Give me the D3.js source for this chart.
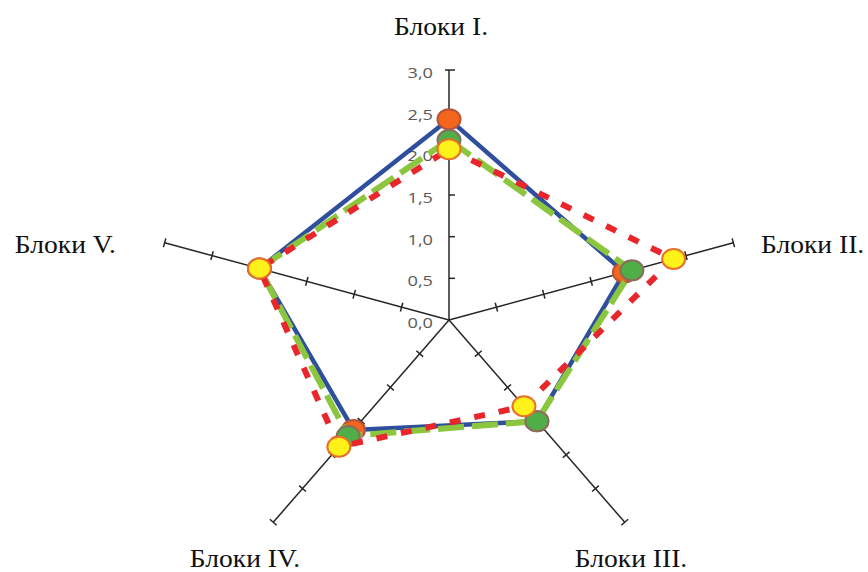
<!DOCTYPE html>
<html>
<head>
<meta charset="utf-8">
<script src="https://cdn.jsdelivr.net/npm/d3@7"></script>
<style>
body { margin: 0; background: #fff; }
</style>
</head>
<body>
<div id="chart"></div>
<script>
// data
var categories = ["Блоки I.", "Блоки II.", "Блоки III.", "Блоки IV.", "Блоки V."];
var seriesBlue = [2.41, 1.85, 1.5, 1.63, 2.0];
var seriesGreen = [2.16, 1.93, 1.5, 1.72, 2.0];
var seriesRed = [2.05, 2.37, 1.28, 1.88, 2.0];
var tickValues = [0, 0.5, 1, 1.5, 2, 2.5, 3];
var tickLabels = ["0,0", "0,5", "1,0", "1,5", "2,0", "2,5", "3,0"];

var W = 868, H = 572;
var cx = 449, cy = 320;
// the original picture is stretched sideways, so two radii
var rx = d3.scaleLinear().domain([0, 3]).range([0, 299]);
var ry = d3.scaleLinear().domain([0, 3]).range([0, 250]);

function angle(i) { return i * 2 * Math.PI / categories.length; }
function px(v, i) { return cx + rx(v) * Math.sin(angle(i)); }
function py(v, i) { return cy - ry(v) * Math.cos(angle(i)); }

var svg = d3.select("#chart").append("svg")
    .attr("width", W).attr("height", H)
    .style("font-family", "'Liberation Serif', 'Times New Roman', serif");

// axes
var axisG = svg.append("g");
categories.forEach(function(c, i) {
    axisG.append("line")
        .attr("x1", cx).attr("y1", cy)
        .attr("x2", px(3, i)).attr("y2", py(3, i))
        .attr("stroke", "#262626").attr("stroke-width", 1.5);
    var dx = px(3, i) - cx, dy = py(3, i) - cy;
    var len = Math.sqrt(dx * dx + dy * dy);
    var nx = -dy / len, ny = dx / len;
    tickValues.forEach(function(t) {
        if (t === 0) return;
        var x0 = px(t, i), y0 = py(t, i);
        var a, b;
        if (i === 0) {
            a = (t === 3) ? -4 : 0; b = 6;
        } else {
            a = -4.5; b = 4.5;
        }
        axisG.append("line")
            .attr("x1", x0 + nx * a).attr("y1", y0 + ny * a)
            .attr("x2", x0 + nx * b).attr("y2", y0 + ny * b)
            .attr("stroke", "#262626").attr("stroke-width", 1.5);
    });
});

// value labels on the first axis
tickValues.forEach(function(t, k) {
    svg.append("text")
        .attr("transform", "translate(" + (cx - 16) + "," + (py(t, 0) + 8) + ") scale(1.3,1)")
        .attr("text-anchor", "end")
        .style("font-family", "'Open Sans', 'Liberation Sans', sans-serif")
        .style("font-size", "14px")
        .attr("fill", "#595959")
        .text(tickLabels[k]);
});

// category labels
var labelPos = [
    { x: 441, y: 35, anchor: "middle" },
    { x: 761, y: 253, anchor: "start" },
    { x: 631, y: 567, anchor: "middle" },
    { x: 245, y: 567, anchor: "middle" },
    { x: 116, y: 253, anchor: "end" }
];
categories.forEach(function(c, i) {
    svg.append("text")
        .attr("transform", "translate(" + labelPos[i].x + "," + labelPos[i].y + ") scale(1.06,1)")
        .attr("text-anchor", labelPos[i].anchor)
        .style("font-size", "26px")
        .attr("fill", "#111")
        .text(c);
});

var series = [
    { values: seriesBlue, stroke: "#2f4e9c", width: 4.5, dash: null, fill: "#f4661b", mstroke: "#b5533c" },
    { values: seriesGreen, stroke: "#8cc63f", width: 6, dash: "26,8", fill: "#4fae48", mstroke: "#8a6d5c" },
    { values: seriesRed, stroke: "#e8262b", width: 6, dash: "11,14", fill: "#fff21a", mstroke: "#e8702a" }
];

var line = d3.line()
    .x(function(d, i) { return px(d, i); })
    .y(function(d, i) { return py(d, i); })
    .curve(d3.curveLinearClosed);

series.forEach(function(s) {
    svg.append("path")
        .datum(s.values)
        .attr("d", line)
        .attr("fill", "none")
        .attr("stroke", s.stroke)
        .attr("stroke-width", s.width)
        .attr("stroke-dasharray", s.dash)
        .attr("stroke-linejoin", "round");
    svg.selectAll(null)
        .data(s.values)
        .enter().append("ellipse")
        .attr("cx", function(d, i) { return px(d, i); })
        .attr("cy", function(d, i) { return py(d, i); })
        .attr("rx", 11.5).attr("ry", 10)
        .attr("fill", s.fill)
        .attr("stroke", s.mstroke)
        .attr("stroke-width", 2);
});
</script>
</body>
</html>
